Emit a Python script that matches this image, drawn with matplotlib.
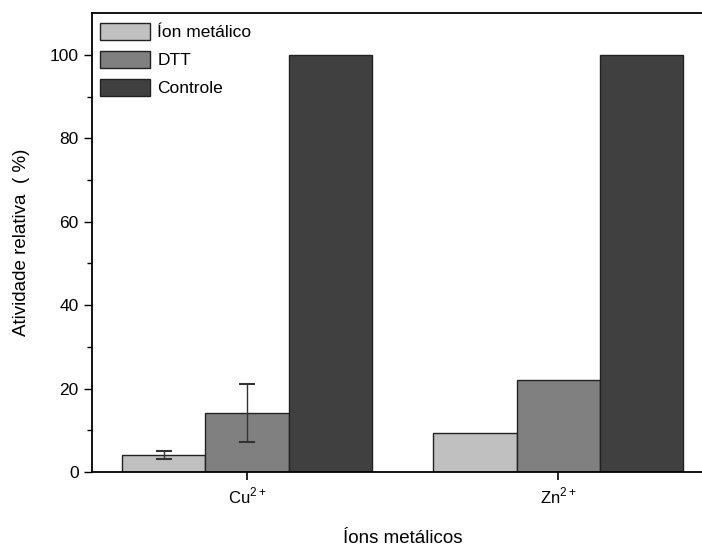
import matplotlib.pyplot as plt
import numpy as np

plt.rcParams['font.family'] = ['Liberation Sans', 'DejaVu Sans']
plt.rcParams['mathtext.fontset'] = 'custom'
plt.rcParams['mathtext.rm'] = 'Liberation Sans'

ions = [r'Cu$^{2+}$', r'Zn$^{2+}$']
ion_metalico = [4.1, 9.4]
ion_err = [0.9, 0]
dtt = [14.1, 22.0]
dtt_err = [6.9, 0]
controle = [100, 100]

x = np.array([1, 2])
w = 0.268

fig = plt.figure(figsize=(7.02, 5.46), dpi=100)
ax = fig.add_axes([0.131, 0.1355, 0.885, 0.8405])

ax.bar(x - w, ion_metalico, w, color='#c0c0c0', edgecolor='#222222', linewidth=1, label='Íon metálico')
ax.bar(x, dtt, w, color='#808080', edgecolor='#222222', linewidth=1, label='DTT')
ax.bar(x + w, controle, w, color='#404040', edgecolor='#222222', linewidth=1, label='Controle')

ax.errorbar(x[:1] - w, ion_metalico[:1], yerr=ion_err[:1], fmt='none', ecolor='#333333',
            elinewidth=1, capsize=6, capthick=1.5)
ax.errorbar(x[:1], dtt[:1], yerr=dtt_err[:1], fmt='none', ecolor='#333333',
            elinewidth=1, capsize=6, capthick=1.5)

ax.set_xlim(0.502, 2.498)
ax.set_ylim(0, 110)
ax.set_xticks(x)
ax.set_xticklabels(ions, fontsize=12)
ax.set_yticks(np.arange(0, 101, 20))
ax.set_yticks(np.arange(10, 101, 20), minor=True)
ax.tick_params(axis='y', which='major', direction='out', length=6, width=1, labelsize=12.5)
ax.tick_params(axis='y', which='minor', direction='out', length=3.5, width=1)
ax.tick_params(axis='x', direction='out', length=6, width=1.2, pad=4)
ax.tick_params(top=False, right=False)
for s in ax.spines.values():
    s.set_linewidth(1.3)

ax.set_ylabel('Atividade relativa  ( %)', fontsize=13.5, labelpad=14)
ax.set_xlabel('Íons metálicos', fontsize=13.5, labelpad=17)

ax.legend(loc='upper left', bbox_to_anchor=(100 / 702, 1 - 23 / 546), bbox_transform=fig.transFigure,
          frameon=False, fontsize=12.5, handlelength=2.9, handleheight=1.1,
          labelspacing=0.62, handletextpad=0.4, borderpad=0, borderaxespad=0)

fig.savefig('out.png', dpi=100)
